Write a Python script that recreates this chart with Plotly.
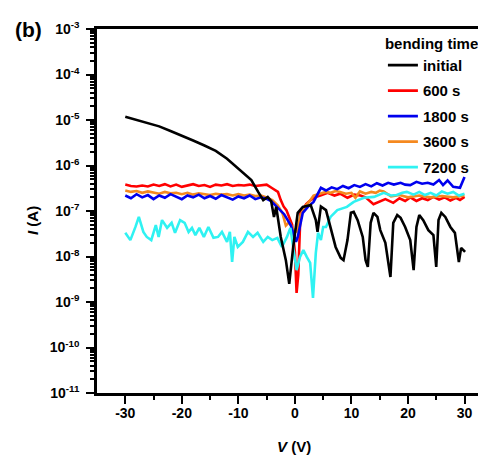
import plotly.graph_objects as go

# ---------------- data (V in volts, log10 of current in A) ----------------
initial_V = [-30, -28, -26, -24, -22, -20, -18, -16, -14, -12, -10.7, -9.5, -8.5,
             -7.7, -6.5, -5.6, -4.8, -4.2, -3.7, -3.3, -2.5, -1.6, -1.0, -0.3, 0.5, 1.4, 2.8,
             3.7, 4.0, 4.6, 5.5, 6.3, 7.2, 8.1, 8.6, 9.3, 9.9, 10.4, 11.1, 12.0, 12.5, 12.9,
             13.4, 13.9, 14.6, 15.1, 16.0, 16.9, 17.4, 18.1, 18.7, 19.5, 20.4, 21.0, 21.5,
             22.0, 22.7, 23.6, 24.5, 25.0, 25.4, 25.9, 26.6, 27.5, 28.3, 29.0, 29.4, 29.8, 30.1]
initial_logI = [-4.93, -5.00, -5.07, -5.14, -5.24, -5.34, -5.45, -5.56, -5.68, -5.85, -5.99,
                -6.14, -6.24, -6.32, -6.58, -6.76, -6.69, -6.78, -7.13, -6.91, -7.57, -8.08,
                -8.60, -7.79, -7.04, -6.91, -6.87, -7.20, -7.46, -6.90, -6.98, -7.35, -7.79, -8.03,
                -8.08, -7.64, -7.04, -7.02, -7.20, -7.57, -8.08, -8.23, -7.26, -7.04, -7.13, -7.42,
                -7.70, -8.45, -7.26, -7.09, -7.15, -7.35, -7.64, -8.30, -7.35, -7.09, -7.20, -7.42,
                -7.53, -8.23, -7.20, -7.04, -7.13, -7.35, -7.48, -8.12, -7.81, -7.86, -7.90]

s600_V = [-30, -29, -28, -27, -26, -25, -24, -23, -22, -21, -20, -19, -18, -17, -16, -15, -14,
          -13, -12, -11, -10, -9, -8, -7, -6, -5, -4, -3, -2.5, -2, -1.5, -1, -0.5, 0, 0.3, 0.6,
          1, 1.5, 2, 2.8, 3.5, 4.5, 5.8, 7, 8, 9.3, 10.5, 11.6, 12.5, 13.9, 15, 16, 17.4, 18.5,
          19.5, 20.4, 21.5, 22.5, 23.5, 24.5, 25.5, 26.5, 27.5, 28.5, 29.2, 30]
s600_logI = [-6.42, -6.45, -6.46, -6.44, -6.46, -6.42, -6.45, -6.41, -6.46, -6.42, -6.47, -6.44,
             -6.41, -6.45, -6.43, -6.47, -6.42, -6.44, -6.41, -6.45, -6.43, -6.44, -6.42, -6.45,
             -6.43, -6.42, -6.50, -6.58, -6.76, -6.90, -6.98, -7.15, -7.30, -7.90, -8.80, -8.40,
             -6.98, -6.95, -6.85, -6.76, -6.70, -6.66, -6.60, -6.66, -6.62, -6.71, -6.64, -6.66,
             -6.70, -6.85, -6.80, -6.74, -6.82, -6.72, -6.78, -6.70, -6.78, -6.72, -6.76, -6.69,
             -6.75, -6.70, -6.77, -6.71, -6.76, -6.69]

s1800_V = [-30, -29, -28, -27, -26, -25, -24, -23, -22, -21, -20, -19, -18, -17, -16, -15, -14,
           -13, -12, -11, -10, -9, -8, -7, -6, -5, -4.2, -3, -1.9, -0.7, 0.2, 0.5, 1.4, 2.3, 3.3,
           4.6, 5.5, 6.5, 7.5, 8.5, 9.5, 10.5, 11.5, 12.5, 13.5, 14.5, 15.5, 16.5, 17.5, 18.7,
           19.5, 20.4, 21.5, 22.5, 23.5, 24.5, 25.5, 26.2, 27, 28, 29.2, 30]
s1800_logI = [-6.66, -6.72, -6.63, -6.70, -6.65, -6.74, -6.66, -6.71, -6.63, -6.69, -6.74, -6.66,
              -6.70, -6.64, -6.72, -6.67, -6.73, -6.65, -6.70, -6.75, -6.68, -6.72, -6.66, -6.74,
              -6.70, -6.73, -6.78, -6.92, -7.07, -7.32, -7.68, -7.57, -7.04, -6.91, -6.80, -6.49,
              -6.55, -6.48, -6.52, -6.45, -6.50, -6.43, -6.47, -6.41, -6.46, -6.39, -6.44, -6.38,
              -6.42, -6.38, -6.42, -6.43, -6.36, -6.40, -6.38, -6.42, -6.32, -6.43, -6.33, -6.47,
              -6.49, -6.25]

s3600_V = [-30, -29, -28, -27, -26, -25, -24, -23, -22, -21, -20, -19, -18, -17, -16, -15, -14,
           -13, -12, -11, -10, -9, -8, -7, -6, -5, -4, -3, -2.2, -1.6, -1, -0.3, 0.3, 1, 1.8, 2.5,
           3.3, 4.5, 5.5, 6.3, 7.2, 8, 9, 10, 10.7, 11.5, 12.5, 13.5, 14.3, 15, 15.7, 17, 18.5,
           20, 22, 24, 26, 28, 30]
s3600_logI = [-6.55, -6.58, -6.56, -6.60, -6.57, -6.59, -6.62, -6.58, -6.61, -6.60, -6.63, -6.60,
              -6.64, -6.61, -6.63, -6.65, -6.62, -6.64, -6.63, -6.66, -6.63, -6.66, -6.64, -6.67,
              -6.66, -6.70, -6.76, -6.88, -7.05, -7.32, -7.25, -7.40, -7.45, -7.10, -6.90, -6.80,
              -6.66, -6.62, -6.58, -6.60, -6.56, -6.58, -6.62, -6.60, -6.71, -6.57, -6.62, -6.58,
              -6.60, -6.55, -6.57, -6.68, -6.65, -6.70, -6.66, -6.70, -6.67, -6.70, -6.66]

s7200_V = [-30, -29.1, -28.2, -27.6, -26.8, -26.2, -25.4, -24.6, -24.1, -23.5, -22.6, -21.8,
           -21.2, -20.3, -19.5, -18.8, -18.2, -17.6, -16.9, -16.1, -15.3, -14.4, -13.6, -12.9,
           -12.0, -11.5, -11.1, -10.7, -10.1, -9.2, -8.3, -7.4, -6.6, -5.6, -4.8, -4.0, -3.1,
           -2.3, -1.4, -0.8, -0.3, 0.3, 0.9, 1.5, 2.1, 2.7, 3.2, 3.7, 4.1, 4.6, 5.0, 5.5, 6.3,
           7.5, 9.2, 10.4, 12.2, 14, 15.7, 17, 18, 19, 19.8, 21, 22, 23, 24, 25, 26, 27, 28, 29, 30]
s7200_logI = [-7.48, -7.64, -7.35, -7.13, -7.46, -7.57, -7.64, -7.31, -7.57, -7.20, -7.37, -7.26,
              -7.48, -7.20, -7.26, -7.46, -7.37, -7.53, -7.37, -7.57, -7.35, -7.59, -7.57, -7.46,
              -7.68, -7.46, -8.12, -7.57, -7.79, -7.68, -7.46, -7.57, -7.48, -7.68, -7.57, -7.64,
              -7.59, -7.79, -7.57, -7.37, -7.79, -8.30, -8.01, -7.86, -8.01, -8.14, -8.91, -7.92,
              -7.48, -7.64, -7.35, -7.35, -7.13, -6.98, -6.91, -6.80, -6.71, -6.69, -6.60, -6.66,
              -6.65, -6.60, -6.58, -6.64, -6.58, -6.65, -6.60, -6.66, -6.57, -6.62, -6.58, -6.66,
              -6.62]

series_names = ["initial", "600 s", "1800 s", "3600 s", "7200 s"]
series_colors = ["#000000", "#ff0000", "#0000ee", "#f5891f", "#2ff2f2"]
x_tick_vals = [-30, -20, -10, 0, 10, 20, 30]
x_tick_text = ["-30", "-20", "-10", "0", "10", "20", "30"]
y_tick_exps = [-11, -10, -9, -8, -7, -6, -5, -4, -3]

FONT = "Liberation Sans, Arial, sans-serif"

data = {
    "initial": (initial_V, initial_logI),
    "600 s": (s600_V, s600_logI),
    "1800 s": (s1800_V, s1800_logI),
    "3600 s": (s3600_V, s3600_logI),
    "7200 s": (s7200_V, s7200_logI),
}

fig = go.Figure()
draw_order = ["600 s", "3600 s", "1800 s", "7200 s", "initial"]
for name in draw_order:
    i = series_names.index(name)
    V, logI = data[name]
    fig.add_trace(go.Scatter(
        x=V, y=[10 ** v for v in logI], mode="lines", name=name,
        line=dict(color=series_colors[i], width=2.6),
        legendgroup=name, legendrank=i + 1,
    ))

minor_y = [k * 10.0 ** e for e in y_tick_exps[:-1] for k in range(2, 10)]

# page has an 8px body margin, so the figure is 8px smaller and everything sits 8px up/left
fig.update_layout(
    width=478, height=451,
    margin=dict(l=89, r=0, t=21, b=66),
    plot_bgcolor="white", paper_bgcolor="white",
    font=dict(family=FONT, color="black"),
    legend=dict(
        x=0.735, y=0.999, xanchor="left", yanchor="top",
        bgcolor="rgba(0,0,0,0)",
        font=dict(family=FONT, size=15, color="black", weight="bold"),
        title=dict(text="bending time", font=dict(family=FONT, size=15, color="black", weight="bold")),
        tracegroupgap=3,
    ),
    xaxis=dict(
        range=[-35, 33.8], tickmode="array", tickvals=x_tick_vals, ticktext=x_tick_text,
        ticks="outside", ticklen=8, tickwidth=2, tickcolor="black",
        showline=True, linewidth=2.5, linecolor="black", mirror=True,
        showgrid=False, zeroline=False, ticklabelstandoff=-3,
        tickfont=dict(family=FONT, size=14, color="black", weight="bold"),
        minor=dict(tickvals=[-25, -15, -5, 5, 15, 25], ticks="outside", ticklen=4,
                   tickwidth=2, tickcolor="black", showgrid=False),
    ),
    yaxis=dict(
        type="log", range=[-11, -3], tickmode="array",
        tickvals=[10.0 ** e for e in y_tick_exps],
        ticktext=["10<sup>%d</sup>" % e for e in y_tick_exps],
        ticks="outside", ticklen=8, tickwidth=2, tickcolor="black",
        showline=True, linewidth=2.5, linecolor="black", mirror=False,
        showgrid=False, zeroline=False, ticklabelstandoff=4,
        tickfont=dict(family=FONT, size=14, color="black", weight="bold"),
        minor=dict(tickvals=minor_y, ticks="outside", ticklen=4, tickwidth=1.5,
                   tickcolor="black", showgrid=False),
    ),
    annotations=[
        dict(text="<b>(b)</b>", x=(28 - 97) / 389, y=(393 - 30) / 364,
             xref="paper", yref="paper", showarrow=False, xanchor="center", yanchor="middle",
             font=dict(family=FONT, size=21, color="black")),
        dict(text="<b><i>V</i> (V)</b>", x=(294 - 97) / 389, y=(393 - 447) / 364,
             xref="paper", yref="paper", showarrow=False, xanchor="center", yanchor="middle",
             font=dict(family=FONT, size=15, color="black")),
        dict(text="<b><i>I</i> (A)</b>", x=(32 - 97) / 389, y=(393 - 221) / 364,
             xref="paper", yref="paper", showarrow=False, xanchor="center", yanchor="middle",
             textangle=-90, font=dict(family=FONT, size=15, color="black")),
    ],
)

fig.write_html("out.html")
